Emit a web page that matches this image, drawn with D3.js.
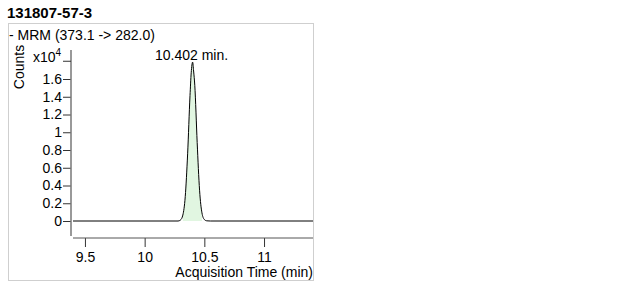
<!DOCTYPE html>
<html><head><meta charset="utf-8">
<script src="https://cdn.jsdelivr.net/npm/d3@7"></script>
<style>body{margin:0;background:#fff}svg{display:block}text{font-family:"Liberation Sans",Arial,sans-serif}</style>
</head><body>
<script>
const title = "131807-57-3";
const traceLabel = "- MRM (373.1 -> 282.0)";
const peakLabel = "10.402 min.";
const xTicks = [9.5, 10, 10.5, 11];
const yTicks = [0, 0.2, 0.4, 0.6, 0.8, 1, 1.2, 1.4, 1.6];
const times = [9.40, 10.28, 10.30, 10.32, 10.34, 10.36, 10.38, 10.39, 10.402, 10.41, 10.42, 10.44, 10.46, 10.48, 10.50, 10.52, 10.55, 11.41];
const counts = [0, 0, 110, 670, 2740, 7570, 14140, 16700, 17900, 16900, 15290, 8840, 3470, 915, 165, 20, 0, 0];
const fillRange = [10.32, 10.49];

const W = 631, H = 287;
const svg = d3.select("body").append("svg").attr("width", W).attr("height", H);

svg.append("text").attr("x", 7).attr("y", 18).attr("font-size", 15).attr("font-weight", "bold").text(title);
svg.append("rect").attr("x", 8.5).attr("y", 23.5).attr("width", 305).attr("height", 257).attr("fill", "none").attr("stroke", "#cfcfcf");
svg.append("text").attr("x", 9).attr("y", 40).attr("font-size", 14).text(traceLabel);

const x = d3.scaleLinear().domain([9.4, 11.41]).range([73, 313]);
const y = d3.scaleLinear().domain([0, 1.8]).range([221, 61.25]);

const data = times.map((t, i) => ({t, v: counts[i] / 1e4}));

const fillData = data.filter(d => d.t >= fillRange[0] && d.t <= fillRange[1]);
svg.append("path").datum(fillData)
  .attr("d", d3.area().x(d => x(d.t)).y0(y(0)).y1(d => y(d.v)).curve(d3.curveMonotoneX))
  .attr("fill", "#e1f6e1");

const yAxis = d3.axisLeft(y).tickValues(yTicks).tickSize(8).tickSizeOuter(0).tickPadding(1)
  .tickFormat(d => d3.format("~g")(d));
const gy = svg.append("g").attr("transform", "translate(71,0)").call(yAxis);
gy.select(".domain").remove();
gy.selectAll("text").attr("font-size", 14).attr("font-family", "Liberation Sans, Arial, sans-serif").attr("fill", "#000");
gy.selectAll("line").attr("stroke", "#333");
svg.append("line").attr("x1", 71).attr("x2", 71).attr("y1", 50).attr("y2", 236).attr("stroke", "#777").attr("stroke-width", 1.5);
svg.append("line").attr("x1", 63).attr("x2", 71).attr("y1", y(1.8)).attr("y2", y(1.8)).attr("stroke", "#333");
const xl = svg.append("text").attr("x", 33).attr("y", 62).attr("font-size", 14);
xl.append("tspan").text("x10");
xl.append("tspan").attr("dy", -6).attr("font-size", 10).text("4");
svg.append("text").attr("transform", "translate(24,67) rotate(-90)").attr("text-anchor", "middle").attr("font-size", 14).text("Counts");

const xAxis = d3.axisBottom(x).tickValues(xTicks).tickSize(9).tickSizeOuter(0).tickPadding(5)
  .tickFormat(d => d3.format("~g")(d));
const gx = svg.append("g").attr("transform", "translate(0,238)").call(xAxis);
gx.select(".domain").remove();
gx.selectAll("text").attr("font-size", 14).attr("font-family", "Liberation Sans, Arial, sans-serif").attr("fill", "#000");
gx.selectAll("line").attr("stroke", "#333");
svg.append("line").attr("x1", 73).attr("x2", 313).attr("y1", 238).attr("y2", 238).attr("stroke", "#555");
svg.append("text").attr("x", 313).attr("y", 277).attr("text-anchor", "end").attr("font-size", 14).text("Acquisition Time (min)");

svg.append("path").datum(data)
  .attr("d", d3.line().x(d => x(d.t)).y(d => y(d.v)).curve(d3.curveMonotoneX))
  .attr("fill", "none").attr("stroke", "#000").attr("stroke-width", 1);

svg.append("text").attr("x", 155).attr("y", 60).attr("font-size", 14).text(peakLabel);
</script>
</body></html>
